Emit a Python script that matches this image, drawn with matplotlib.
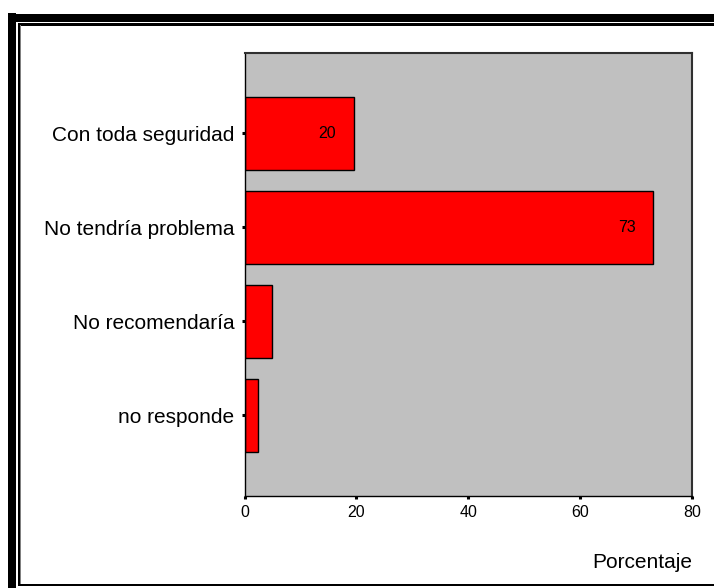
import matplotlib
matplotlib.use("Agg")
import matplotlib.pyplot as plt
from matplotlib.patches import Rectangle

# Survey responses (percentage of respondents)
categories = ["Con toda seguridad", "No tendría problema", "No recomendaría", "no responde"]
percentages = [19.6, 73.1, 5.0, 2.4]
labelled = [True, True, False, False]
xticks = [0, 20, 40, 60, 80]

W, H = 714, 588
plt.rcParams["font.family"] = ["Liberation Sans", "DejaVu Sans"]

fig = plt.figure(figsize=(W / 100, H / 100), dpi=100)
fig.patch.set_facecolor("white")


def px_rect(x0, y0, x1, y1, color):
    """Rectangle given in pixel coordinates measured from the top-left."""
    fig.patches.append(Rectangle((x0 / W, 1 - y1 / H), (x1 - x0) / W, (y1 - y0) / H,
                                 transform=fig.transFigure, facecolor=color,
                                 edgecolor="none", zorder=0))


# Double frame around the chart: heavy outer band, thin inner line
px_rect(8, 13, 16, H, "black")
px_rect(8, 14, W, 22, "black")
px_rect(18, 23, W, 25.5, "black")
px_rect(18, 23, 20, 586, "black")
px_rect(20, 25, 21, 584, "#808080")
px_rect(18, 583.5, W, 586, "black")

ax_l, ax_r, ax_t, ax_b = 244.5, 692, 53, 496
ax = fig.add_axes([ax_l / W, 1 - ax_b / H, (ax_r - ax_l) / W, (ax_b - ax_t) / H])
ax.set_facecolor("#C0C0C0")

ypos = list(range(len(categories)))
ax.barh(ypos, percentages, height=0.78, color="#FF0000", edgecolor="black",
        linewidth=1.0, zorder=2)

for y, v, show in zip(ypos, percentages, labelled):
    if show:
        ax.annotate(f"{v:.0f}", xy=(v, y), xytext=(-18, 0), textcoords="offset pixels",
                    ha="right", va="center", fontsize=11.5, color="black", zorder=3)

ax.set_xlim(0, 80)
ax.set_ylim(3.86, -0.855)
ax.set_xticks(xticks)
ax.set_xticklabels([str(t) for t in xticks], fontsize=11.5)
ax.set_yticks(ypos)
ax.set_yticklabels(categories, fontsize=15)
ax.tick_params(axis="both", length=2.2, width=2.2, color="black", pad=4)
ax.tick_params(axis="y", pad=5)

for side in ["left", "bottom"]:
    ax.spines[side].set_color("black")
    ax.spines[side].set_linewidth(1.0)
for side in ["top", "right"]:
    ax.spines[side].set_color("#303030")
    ax.spines[side].set_linewidth(1.5)

fig.text(ax_r / W, 1 - 562 / H, "Porcentaje", ha="right", va="center", fontsize=15)

fig.savefig("out.png", dpi=100)
